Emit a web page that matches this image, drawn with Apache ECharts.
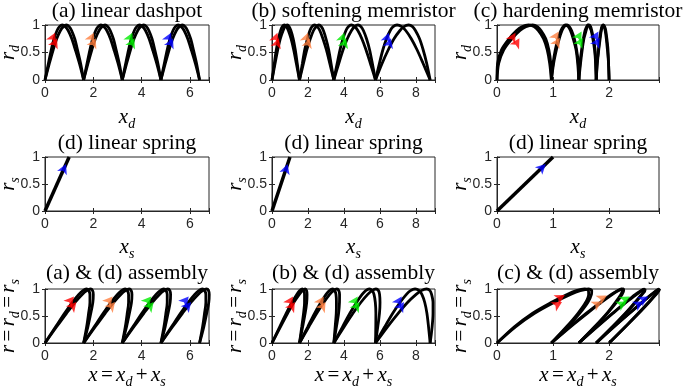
<!DOCTYPE html>
<html><head><meta charset="utf-8">
<script src="https://cdn.jsdelivr.net/npm/echarts@6/dist/echarts.min.js"></script>
<style>html,body{margin:0;padding:0;background:#fff}#c{width:685px;height:388px}</style>
</head><body><div id="c"></div>
<script>
// shared r levels along each arc (rise to 1, then fall back to 0)
const rLevels = [0,0.3,0.55,0.75,0.9,0.97,1,0.97,0.9,0.75,0.55,0.3,0];

// (a) linear dashpot: x_d along each arc, two traces
const dashpotA = [
 [0,0.14,0.26,0.375,0.5,0.6,0.715,0.84,0.96,1.11,1.255,1.425,1.6],
 [1.6,1.74,1.86,1.975,2.1,2.2,2.315,2.44,2.56,2.71,2.855,3.025,3.2],
 [3.2,3.34,3.46,3.575,3.7,3.8,3.915,4.04,4.16,4.31,4.455,4.625,4.8],
 [4.8,4.94,5.06,5.175,5.3,5.4,5.515,5.64,5.76,5.91,6.055,6.225,6.4]];
const dashpotB = [
 [0,0.18,0.34,0.485,0.64,0.76,0.885,1.0,1.1,1.23,1.345,1.475,1.6],
 [1.6,1.78,1.94,2.085,2.24,2.36,2.485,2.6,2.7,2.83,2.945,3.075,3.2],
 [3.2,3.38,3.54,3.685,3.84,3.96,4.085,4.2,4.3,4.43,4.545,4.675,4.8],
 [4.8,4.98,5.14,5.285,5.44,5.56,5.685,5.8,5.9,6.03,6.145,6.275,6.4]];
// (b) softening memristor
const softA = [
 [0,0.13,0.24,0.36,0.48,0.575,0.69,0.805,0.91,1.06,1.205,1.355,1.53],
 [1.53,1.69,1.82,1.97,2.11,2.225,2.37,2.515,2.66,2.835,3.025,3.215,3.44],
 [3.44,3.625,3.785,3.95,4.115,4.245,4.415,4.605,4.775,5.0,5.23,5.475,5.76],
 [5.76,5.975,6.17,6.37,6.58,6.74,6.96,7.22,7.44,7.75,8.07,8.41,8.8]];
const softB = [
 [0,0.17,0.32,0.46,0.62,0.725,0.85,0.955,1.05,1.18,1.295,1.405,1.53],
 [1.53,1.75,1.94,2.13,2.31,2.455,2.61,2.745,2.86,3.005,3.155,3.285,3.44],
 [3.44,3.715,3.955,4.19,4.425,4.595,4.785,4.955,5.085,5.26,5.43,5.585,5.76],
 [5.76,6.125,6.47,6.79,7.12,7.34,7.6,7.82,7.98,8.21,8.41,8.61,8.8]];
// (c) hardening memristor
const hardA = [
 [0,0.01,0.08,0.215,0.35,0.445,0.565,0.66,0.735,0.83,0.895,0.94,0.97],
 [0.97,1.0,1.04,1.09,1.14,1.18,1.22,1.27,1.31,1.36,1.41,1.44,1.46],
 [1.46,1.48,1.51,1.54,1.57,1.6,1.62,1.65,1.68,1.71,1.74,1.76,1.77],
 [1.77,1.785,1.81,1.83,1.855,1.87,1.89,1.91,1.93,1.95,1.97,1.99,2.0]];
const hardB = [
 [0,0.03,0.12,0.265,0.41,0.515,0.635,0.72,0.785,0.87,0.925,0.96,0.97],
 [0.97,1.01,1.06,1.11,1.16,1.2,1.25,1.29,1.33,1.38,1.42,1.45,1.46],
 [1.46,1.49,1.52,1.55,1.59,1.61,1.64,1.67,1.69,1.72,1.75,1.76,1.77],
 [1.77,1.79,1.815,1.84,1.86,1.88,1.9,1.92,1.94,1.96,1.98,1.99,2.0]];
// assemblies: x = x_d + x_s
const asmDashA = [
 [0,0.44,0.81,1.125,1.4,1.57,1.715,1.81,1.86,1.86,1.805,1.725,1.6],
 [1.6,2.04,2.41,2.725,3.0,3.17,3.315,3.41,3.46,3.46,3.405,3.325,3.2],
 [3.2,3.64,4.01,4.325,4.6,4.77,4.915,5.01,5.06,5.06,5.005,4.925,4.8],
 [4.8,5.24,5.61,5.925,6.2,6.37,6.515,6.61,6.66,6.66,6.605,6.525,6.4]];
const asmDashB = [
 [0,0.48,0.89,1.235,1.54,1.73,1.885,1.97,2.0,1.98,1.895,1.775,1.6],
 [1.6,2.08,2.49,2.835,3.14,3.33,3.485,3.57,3.6,3.58,3.495,3.375,3.2],
 [3.2,3.68,4.09,4.435,4.74,4.93,5.085,5.17,5.2,5.18,5.095,4.975,4.8],
 [4.8,5.28,5.69,6.035,6.34,6.53,6.685,6.77,6.8,6.78,6.695,6.575,6.4]];
const asmSoftA = [
 [0,0.43,0.79,1.11,1.38,1.545,1.69,1.775,1.81,1.81,1.755,1.655,1.53],
 [1.53,1.99,2.37,2.72,3.01,3.195,3.37,3.485,3.56,3.585,3.575,3.515,3.44],
 [3.44,3.925,4.335,4.7,5.015,5.215,5.415,5.575,5.675,5.75,5.78,5.775,5.76],
 [5.76,6.275,6.72,7.12,7.48,7.71,7.96,8.19,8.34,8.5,8.62,8.71,8.8]];
const asmSoftB = [
 [0,0.47,0.87,1.21,1.52,1.695,1.85,1.925,1.95,1.93,1.845,1.705,1.53],
 [1.53,2.05,2.49,2.88,3.21,3.425,3.61,3.715,3.76,3.755,3.705,3.585,3.44],
 [3.44,4.015,4.505,4.94,5.325,5.565,5.785,5.925,5.985,6.01,5.98,5.885,5.76],
 [5.76,6.425,7.02,7.54,8.02,8.31,8.6,8.79,8.88,8.96,8.96,8.91,8.8]];
const asmHardA = [
 [0,0.31,0.63,0.965,1.25,1.415,1.565,1.63,1.635,1.58,1.445,1.24,0.97],
 [0.97,1.3,1.59,1.84,2.04,2.15,2.22,2.24,2.21,2.11,1.96,1.74,1.46],
 [1.46,1.78,2.06,2.29,2.47,2.57,2.62,2.62,2.58,2.46,2.29,2.06,1.77],
 [1.77,2.085,2.36,2.58,2.755,2.84,2.89,2.88,2.83,2.7,2.52,2.29,2.0]];
const asmHardB = [
 [0,0.33,0.67,1.015,1.31,1.485,1.635,1.69,1.685,1.62,1.475,1.26,0.97],
 [0.97,1.31,1.61,1.86,2.06,2.17,2.25,2.26,2.23,2.13,1.97,1.75,1.46],
 [1.46,1.79,2.07,2.3,2.49,2.58,2.64,2.64,2.59,2.47,2.3,2.06,1.77],
 [1.77,2.09,2.365,2.59,2.76,2.85,2.9,2.89,2.84,2.71,2.53,2.29,2.0]];
// linear spring
const springX = [0, 1];
const springR = [0, 1];

// arrow markers (x, r) and colours
const arrowColors = ['#ff0000','#ff0000','#ff8040','#ff8040','#00ee00','#00ee00','#0000ff','#0000ff'];
const arrowsDash = [[0.42,0.86],[0.5,0.76],[2.02,0.86],[2.1,0.76],[3.62,0.86],[3.7,0.76],[5.22,0.86],[5.3,0.76]];
const arrowsSoft = [[0.3,0.86],[0.38,0.76],[2.0,0.86],[2.1,0.76],[4.02,0.86],[4.12,0.76],[6.5,0.86],[6.62,0.76]];
const arrowsHard = [[0.33,0.86],[0.4,0.76],[1.1,0.88],[1.12,0.77],[1.51,0.88],[1.53,0.77],[1.81,0.88],[1.83,0.77]];
const arrowsSpring = [[0.87,0.87]];
const arrowsAsmDash = [[1.2,0.86],[1.3,0.76],[2.8,0.86],[2.9,0.76],[4.4,0.86],[4.5,0.76],[5.95,0.86],[6.05,0.76]];
const arrowsAsmSoft = [[1.17,0.86],[1.27,0.76],[2.88,0.86],[2.98,0.76],[4.77,0.86],[4.87,0.76],[7.22,0.86],[7.34,0.76]];
const arrowsAsmHard = [[1.21,0.89],[1.16,0.76],[1.96,0.88],[1.87,0.77],[2.37,0.86],[2.31,0.77],[2.7,0.86],[2.61,0.77]];

// axes
const xMax = [6.79, 9.07, 2.89];
const xStep = [2, 2, 1];
const yTicks = [0, 0.5, 1];

const titles = [
 ['(a) linear dashpot','(b) softening memristor','(c) hardening memristor'],
 ['(d) linear spring','(d) linear spring','(d) linear spring'],
 ['(a) & (d) assembly','(b) & (d) assembly','(c) & (d) assembly']];
const xNames = ['{a|x}{b|d}', '{a|x}{b|s}', '{a|x} {n|=} {a|x}{b|d} {n|+} {a|x}{b|s}'];
const yNames = ['{a|r}{b|d}', '{a|r}{b|s}', '{a|r} {n|=} {a|r}{b|d} {n|=} {a|r}{b|s}'];

// layout
const colLeft = [45, 272, 497], colW = [164, 163, 162];
const rowTop = [25, 157, 289], rowH = [55, 54, 54];
const titleY = [11, 143, 273];
const xNameY = [117, 247, 375];

const SERIF = '"Liberation Serif", "Times New Roman", serif';
const SANS = '"Liberation Sans", Arial, sans-serif';
const TXT = '#262626';
const richMath = {
  a: {fontFamily: SERIF, fontStyle: 'italic', fontSize: 21, fill: '#000', lineHeight: 28, verticalAlign: 'middle'},
  n: {fontFamily: SERIF, fontSize: 21, fill: '#000', lineHeight: 28, verticalAlign: 'middle'},
  b: {fontFamily: SERIF, fontStyle: 'italic', fontSize: 14, fill: '#000', lineHeight: 28, verticalAlign: 'bottom'}
};

const grids = [], xAxes = [], yAxes = [], series = [], graphics = [];
const lineData = [
 [[dashpotA, dashpotB], [softA, softB], [hardA, hardB]],
 [null, null, null],
 [[asmDashA, asmDashB], [asmSoftA, asmSoftB], [asmHardA, asmHardB]]];
const arrowData = [
 [arrowsDash, arrowsSoft, arrowsHard],
 [arrowsSpring, arrowsSpring, arrowsSpring],
 [arrowsAsmDash, arrowsAsmSoft, arrowsAsmHard]];
const arrowRot = [[-25,-18,-30],[-24,-18,-46],[-40,-32,-60]];

let gi = 0;
for (let r = 0; r < 3; r++) {
  for (let c = 0; c < 3; c++) {
    grids.push({left: colLeft[c], top: rowTop[r], width: colW[c], height: rowH[r],
      show: true, borderColor: TXT, borderWidth: 1, backgroundColor: 'transparent', containLabel: false});
    const step = xStep[c];
    const fmtX = v => (Math.abs(v/step - Math.round(v/step)) < 1e-6) ? String(Math.round(v)) : '';
    xAxes.push({type: 'value', gridIndex: gi, min: 0, max: xMax[c], interval: step,
      axisLine: {show: true, lineStyle: {color: TXT, width: 1}},
      axisTick: {show: true, inside: true, length: 3, lineStyle: {color: TXT}},
      axisLabel: {show: true, formatter: fmtX, color: TXT, fontFamily: SANS, fontSize: 14, margin: 6},
      splitLine: {show: false}});
    xAxes.push({type: 'value', gridIndex: gi, position: 'top', min: 0, max: xMax[c], interval: step,
      axisLine: {show: false}, axisLabel: {show: false}, splitLine: {show: false},
      axisTick: {show: true, inside: true, length: 3, lineStyle: {color: TXT}}});
    yAxes.push({type: 'value', gridIndex: gi, min: 0, max: 1, interval: 0.5,
      axisLine: {show: true, lineStyle: {color: TXT, width: 1}},
      axisTick: {show: true, inside: true, length: 3, lineStyle: {color: TXT}},
      axisLabel: {show: true, color: TXT, fontFamily: SANS, fontSize: 14, margin: 5,
        formatter: v => yTicks.includes(v) ? String(v) : ''},
      splitLine: {show: false}});
    yAxes.push({type: 'value', gridIndex: gi, position: 'right', min: 0, max: 1, interval: 0.5,
      axisLine: {show: false}, axisLabel: {show: false}, splitLine: {show: false},
      axisTick: {show: true, inside: true, length: 3, lineStyle: {color: TXT}}});
    const xi = gi * 2, yi = gi * 2;
    const ld = lineData[r][c];
    if (ld) {
      ld.forEach(trace => trace.forEach(arc => {
        series.push({type: 'line', xAxisIndex: xi, yAxisIndex: yi, showSymbol: false, symbol: 'none',
          smooth: 0.3, clip: false, silent: true, animation: false, z: 2,
          lineStyle: {color: '#000', width: 2.8},
          data: arc.map((x, i) => [x, rLevels[i]])});
      }));
    } else {
      series.push({type: 'line', xAxisIndex: xi, yAxisIndex: yi, showSymbol: false, symbol: 'none',
        clip: false, silent: true, animation: false, z: 2,
        lineStyle: {color: '#000', width: 3.5},
        data: springX.map((x, i) => [x, springR[i]])});
    }
    const ad = arrowData[r][c];
    series.push({type: 'scatter', xAxisIndex: xi, yAxisIndex: yi, symbol: 'arrow', symbolSize: [8, 10],
      symbolRotate: arrowRot[r][c], silent: true, animation: false, z: 5,
      data: ad.map((p, i) => ({value: p, itemStyle: {color: ad.length === 1 ? '#0000ff' : arrowColors[i]}}))});
    // title
    graphics.push({type: 'text', x: colLeft[c] + colW[c] / 2, y: titleY[r], silent: true,
      style: {text: titles[r][c], font: '21.5px ' + SERIF, fill: '#000',
        align: 'center', verticalAlign: 'middle'}});
    // x name
    graphics.push({type: 'text', x: colLeft[c] + colW[c] / 2, y: xNameY[r], silent: true,
      style: {text: xNames[r], rich: richMath, align: 'center', verticalAlign: 'middle'}});
    // y name (rotated)
    graphics.push({type: 'text', x: colLeft[c] - 37, y: rowTop[r] + rowH[r] / 2, rotation: Math.PI / 2, silent: true,
      style: {text: yNames[r], rich: richMath, align: 'center', verticalAlign: 'middle'}});
    gi++;
  }
}

const chart = echarts.init(document.getElementById('c'), null, {renderer: 'canvas'});
chart.setOption({animation: false, backgroundColor: '#fff', grid: grids, xAxis: xAxes, yAxis: yAxes,
  series: series, graphic: graphics});
</script></body></html>
